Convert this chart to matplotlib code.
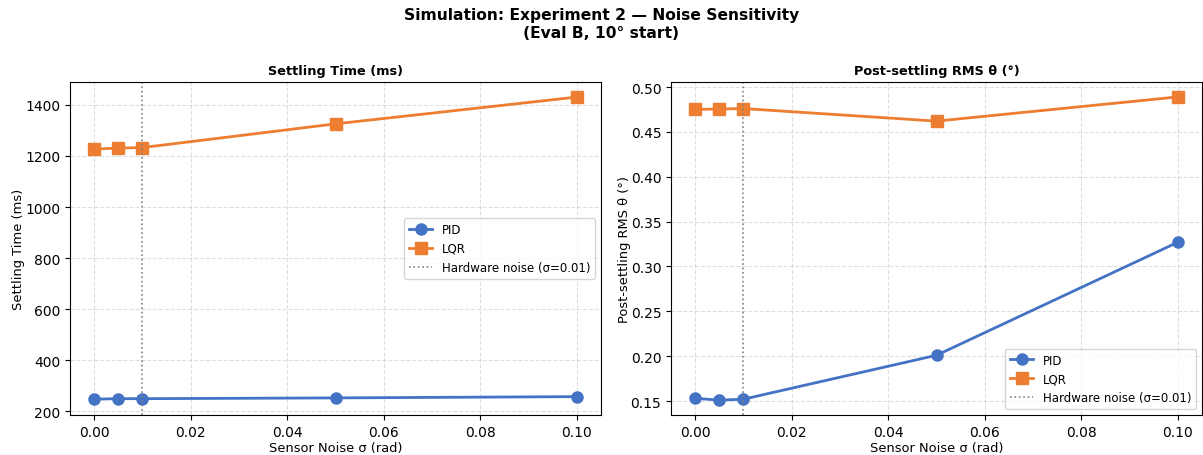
import matplotlib
matplotlib.use('Agg')
import matplotlib.pyplot as plt

noise = [0.0, 0.005, 0.01, 0.05, 0.1]
pid_settle = [247, 249, 249, 252, 257]
lqr_settle = [1227, 1231, 1233, 1326, 1431]
pid_rms = [0.153, 0.151, 0.152, 0.201, 0.327]
lqr_rms = [0.475, 0.4755, 0.476, 0.462, 0.489]
hw_noise = 0.01

blue = '#4472C4'
orange = '#ED7D31'

fig = plt.figure(figsize=(12.03, 4.56), dpi=100)
ax1 = fig.add_axes([70/1203, 1 - 416/456, 531/1203, 333/456])
ax2 = fig.add_axes([671/1203, 1 - 416/456, 531/1203, 333/456])

fig.suptitle('Simulation: Experiment 2 — Noise Sensitivity\n(Eval B, 10° start)',
             fontsize=11.2, fontweight='bold', y=0.982)

panels = [
    (ax1, pid_settle, lqr_settle, 'Settling Time (ms)', 'Settling Time (ms)', 'center right', (185, 1490)),
    (ax2, pid_rms, lqr_rms, 'Post-settling RMS θ (°)', 'Post-settling RMS θ (°)', 'lower right', (0.1344, 0.5056)),
]

for ax, pid, lqr, title, ylabel, loc, ylim in panels:
    ax.plot(noise, pid, marker='o', color=blue, lw=2, ms=8, label='PID')
    ax.plot(noise, lqr, marker='s', color=orange, lw=2, ms=8, label='LQR')
    ax.axvline(hw_noise, color='gray', ls=':', lw=1.2, label='Hardware noise (σ=0.01)')
    ax.set_title(title, fontsize=9.3, fontweight='bold')
    ax.set_xlabel('Sensor Noise σ (rad)', fontsize=9.4, labelpad=2)
    ax.set_ylabel(ylabel, fontsize=9.4, labelpad=0)
    ax.set_xlim(-0.005, 0.105)
    ax.set_ylim(*ylim)
    ax.grid(True, ls='--', alpha=0.4)
    ax.legend(loc=loc, fontsize=8.5)

ax2.set_yticks([0.15, 0.20, 0.25, 0.30, 0.35, 0.40, 0.45, 0.50])

plt.savefig('out.png', dpi=100)
